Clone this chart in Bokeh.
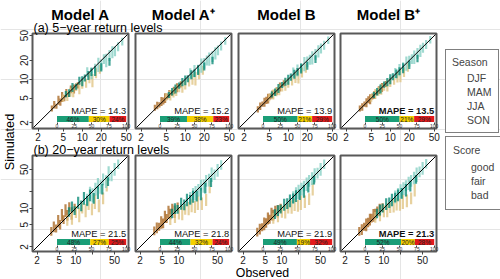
import math
from bokeh.plotting import figure
from bokeh.models import (Range1d, ColumnDataSource, FixedTicker, Legend, LegendItem,
                          LinearScale, LogScale, LogAxis, LinearAxis)
from bokeh.embed import file_html
from bokeh.resources import INLINE
from bokeh.core.properties import value

FONT = "Liberation Sans"

# ---------------- data ----------------
MODELS = ["Model A", "Model A\u207a", "Model B", "Model B\u207a"]
ROW_TITLES = ["(a) 5\u2212year return levels", "(b) 20\u2212year return levels"]
SEASONS = ["DJF", "MAM", "JJA", "SON"]
SEASON_COLORS = ["#a6611a", "#dfc27d", "#80cdc1", "#018571"]
SCORE_NAMES = ["good", "fair", "bad"]
SCORE_COLORS = ["#1b9e77", "#f5d000", "#e31a1c"]
AXIS_TICKS = [2, 5, 10, 20, 50]
BAR_TICKS = [0, 25, 50, 75, 100]

MAPE_5Y = [14.3, 15.2, 13.9, 13.5]
MAPE_20Y = [21.5, 21.8, 21.9, 21.3]
GOOD_5Y = [46, 39, 50, 50]
FAIR_5Y = [30, 38, 21, 21]
BAD_5Y = [24, 23, 29, 29]
GOOD_20Y = [48, 44, 49, 52]
FAIR_20Y = [27, 32, 19, 20]
BAD_20Y = [25, 24, 32, 28]

N_PER_SEASON = 12  # points per season, order DJF, MAM, JJA, SON

OBS_5Y = [3.3, 3.6, 3.9, 4.2, 4.5, 4.8, 5.2, 5.6, 6.1, 6.6, 7.4, 8.5,
          5.0, 5.8, 6.5, 7.2, 8.0, 9.0, 10.0, 11.5, 13.0, 14.5, 16.5, 19.0,
          12.0, 14.0, 16.0, 18.0, 20.0, 22.0, 24.0, 27.0, 30.0, 33.0, 37.0, 43.0,
          5.5, 6.2, 7.0, 8.0, 9.0, 10.0, 11.0, 12.5, 14.0, 16.0, 20.0, 27.0]
SPREAD_5Y = [1.12, 1.15, 1.10, 1.18, 1.14, 1.20, 1.12, 1.16, 1.10, 1.15, 1.18, 1.12,
             1.15, 1.20, 1.18, 1.22, 1.16, 1.25, 1.20, 1.18, 1.22, 1.28, 1.20, 1.18,
             1.20, 1.25, 1.18, 1.30, 1.22, 1.20, 1.28, 1.22, 1.25, 1.20, 1.18, 1.15,
             1.12, 1.15, 1.18, 1.12, 1.16, 1.20, 1.14, 1.18, 1.15, 1.20, 1.16, 1.15]
SIM_5Y_A = [3.4, 3.9, 3.7, 4.6, 4.3, 5.2, 5.0, 6.0, 5.7, 6.9, 7.0, 8.0,
            5.0, 5.4, 6.2, 6.3, 7.5, 7.2, 8.5, 8.6, 10.5, 9.5, 12.5, 14.5,
            13.0, 12.5, 15.0, 17.0, 17.0, 21.0, 20.0, 24.0, 27.0, 28.0, 33.0, 40.0,
            5.8, 6.0, 7.4, 7.6, 9.5, 9.3, 10.5, 11.5, 13.0, 13.5, 15.5, 19.0]
SIM_5Y_AP = [3.5, 3.8, 3.9, 4.4, 4.5, 5.0, 5.3, 5.8, 6.0, 6.6, 7.3, 8.3,
             5.2, 5.5, 6.0, 6.6, 7.2, 7.6, 8.2, 9.0, 10.0, 10.2, 12.0, 14.0,
             12.5, 13.5, 14.5, 16.5, 18.0, 20.0, 21.0, 23.0, 26.0, 29.0, 34.0, 41.0,
             5.6, 6.3, 7.0, 7.9, 9.0, 9.6, 10.2, 11.8, 12.5, 14.0, 16.0, 20.0]
SIM_5Y_B = [3.3, 3.7, 4.0, 4.3, 4.6, 4.9, 5.3, 5.7, 6.2, 6.5, 7.5, 8.6,
            5.1, 5.7, 6.3, 6.8, 7.4, 8.2, 8.8, 9.4, 10.6, 11.0, 12.8, 15.0,
            12.8, 13.8, 15.5, 17.5, 19.0, 20.5, 22.0, 25.0, 28.0, 31.0, 35.0, 42.0,
            5.7, 6.2, 7.1, 8.1, 9.1, 9.8, 10.8, 12.0, 13.2, 14.8, 16.5, 21.0]
SIM_5Y_BP = [3.4, 3.6, 4.0, 4.2, 4.7, 4.8, 5.3, 5.6, 6.1, 6.7, 7.4, 8.4,
             5.0, 5.8, 6.4, 6.9, 7.6, 8.0, 9.0, 9.6, 10.8, 11.5, 13.0, 15.5,
             12.6, 14.0, 15.8, 17.8, 19.5, 21.0, 22.5, 26.0, 28.5, 32.0, 36.0, 43.0,
             5.6, 6.3, 7.0, 8.2, 9.0, 10.0, 11.0, 12.2, 13.5, 15.0, 17.0, 21.5]

OBS_20Y = [3.6, 4.0, 4.4, 4.8, 5.2, 5.6, 6.0, 6.5, 7.0, 7.6, 8.4, 9.5,
           7.0, 8.5, 10.0, 11.5, 13.0, 15.0, 17.0, 19.5, 22.0, 26.0, 31.0, 36.0,
           16.0, 18.0, 20.0, 22.5, 25.0, 28.0, 31.0, 35.0, 39.0, 44.0, 50.0, 58.0,
           7.5, 8.5, 9.5, 11.0, 12.5, 14.0, 16.0, 18.0, 21.0, 25.0, 30.0, 38.0]
SPREAD_20Y = [1.20, 1.25, 1.18, 1.30, 1.22, 1.28, 1.20, 1.30, 1.25, 1.22, 1.30, 1.20,
              1.25, 1.30, 1.28, 1.35, 1.25, 1.32, 1.30, 1.28, 1.35, 1.30, 1.28, 1.30,
              1.30, 1.28, 1.35, 1.30, 1.25, 1.32, 1.28, 1.30, 1.35, 1.25, 1.30, 1.22,
              1.22, 1.25, 1.20, 1.28, 1.25, 1.30, 1.22, 1.28, 1.25, 1.30, 1.25, 1.20]
SIM_20Y_A = [3.8, 4.6, 4.3, 5.8, 5.0, 7.5, 6.2, 9.0, 7.4, 10.5, 8.0, 10.0,
             6.0, 6.5, 8.5, 7.5, 10.0, 9.0, 12.0, 9.5, 13.0, 11.0, 15.0, 26.0,
             14.0, 19.0, 17.0, 22.0, 28.0, 24.0, 33.0, 30.0, 42.0, 38.0, 50.0, 62.0,
             8.5, 10.5, 9.0, 12.5, 11.0, 15.0, 13.5, 17.0, 15.0, 19.0, 22.0, 30.0]
SIM_20Y_AP = [3.9, 4.4, 4.6, 5.5, 5.3, 7.0, 6.5, 8.5, 7.8, 9.8, 8.6, 10.5,
              6.2, 7.0, 8.0, 8.2, 9.5, 9.8, 11.0, 10.5, 12.5, 12.0, 14.0, 24.0,
              15.0, 18.0, 18.5, 21.0, 26.0, 25.0, 31.0, 32.0, 40.0, 40.0, 48.0, 60.0,
              8.0, 9.8, 9.5, 12.0, 11.5, 14.0, 14.2, 16.0, 16.5, 18.0, 23.0, 29.0]
SIM_20Y_B = [3.7, 4.2, 4.5, 5.2, 5.4, 6.5, 6.3, 7.8, 7.5, 9.0, 8.8, 10.0,
             6.5, 7.2, 8.6, 8.8, 10.0, 10.5, 11.5, 11.0, 12.5, 13.0, 14.5, 22.0,
             15.5, 18.5, 19.5, 22.0, 25.0, 27.0, 31.0, 34.0, 39.0, 43.0, 50.0, 62.0,
             7.8, 9.0, 9.6, 11.5, 12.0, 13.5, 15.0, 16.5, 17.5, 20.0, 24.0, 32.0]
SIM_20Y_BP = [3.8, 4.1, 4.6, 5.0, 5.5, 6.2, 6.6, 7.4, 7.8, 8.8, 9.2, 10.2,
              6.8, 7.5, 8.8, 9.2, 10.2, 11.0, 11.8, 11.5, 13.0, 13.5, 15.0, 21.0,
              16.0, 18.0, 20.0, 22.5, 25.5, 28.0, 31.0, 35.0, 40.0, 45.0, 52.0, 63.0,
              8.0, 9.2, 10.0, 11.8, 12.5, 14.0, 15.5, 17.0, 18.5, 21.0, 25.0, 33.0]

ROWS = [
    dict(obs=OBS_5Y, spread=SPREAD_5Y, sims=[SIM_5Y_A, SIM_5Y_AP, SIM_5Y_B, SIM_5Y_BP],
         mape=MAPE_5Y, good=GOOD_5Y, fair=FAIR_5Y, bad=BAD_5Y, rng=(1.63, 54.0), hide20=False),
    dict(obs=OBS_20Y, spread=SPREAD_20Y, sims=[SIM_20Y_A, SIM_20Y_AP, SIM_20Y_B, SIM_20Y_BP],
         mape=MAPE_20Y, good=GOOD_20Y, fair=FAIR_20Y, bad=BAD_20Y, rng=(1.65, 89.0), hide20=True),
]

# ---------------- layout (pixels, y measured from the top) ----------------
W, H = 500, 279
PANEL_X0 = [32, 135, 238, 340]
ROW_Y0 = [33, 155]
FRAME_W = 96
FRAME_H = [95, 96]
BAR_L, BAR_R = 24.5, FRAME_W - 2.3


def log_range(lo, hi, a, b, total):
    k = (math.log10(hi) - math.log10(lo)) / (b - a)
    return Range1d(10 ** (math.log10(lo) - a * k), 10 ** (math.log10(hi) + (total - b) * k))


def lin_range(v0, v1, a, b, total):
    k = (v1 - v0) / (b - a)
    return Range1d(v0 - a * k, v1 + (total - b) * k)


p = figure(width=W, height=H, x_range=Range1d(0, W), y_range=Range1d(0, H),
           output_backend="svg", toolbar_location=None, min_border=0, title=None,
           x_axis_location=None, y_axis_location=None)
p.outline_line_color = None
p.background_fill_color = "white"

xr_d, yr_d, xs_d, ys_d = {}, {}, {}, {}


def style_axis(ax, size="10px"):
    ax.axis_line_color = None
    ax.major_tick_line_color = "#444444"
    ax.major_tick_in = 0
    ax.minor_tick_line_color = None
    ax.major_label_text_font = FONT
    ax.major_label_text_font_size = size
    ax.major_label_text_color = "#1a1a1a"


for r, d in enumerate(ROWS):
    lo, hi = d["rng"]
    y0 = ROW_Y0[r]
    fh = FRAME_H[r]
    fb = H - (y0 + fh)   # frame bottom, from canvas bottom
    ft = H - y0
    for m in range(4):
        x0 = PANEL_X0[m]
        xn, yn, bn = f"x{r}{m}", f"y{r}{m}", f"b{r}{m}"
        xr_d[xn] = log_range(lo, hi, x0, x0 + FRAME_W, W)
        xs_d[xn] = LogScale()
        yr_d[yn] = log_range(lo, hi, fb, ft, H)
        ys_d[yn] = LogScale()
        xr_d[bn] = lin_range(0, 100, x0 + BAR_L, x0 + BAR_R, W)
        xs_d[bn] = LinearScale()

        obs, sim, sp = d["obs"], d["sims"][m], d["spread"]
        src = ColumnDataSource(dict(
            x=obs, lo=[s / k for s, k in zip(sim, sp)], hi=[s * k for s, k in zip(sim, sp)],
            c=[SEASON_COLORS[i // N_PER_SEASON] for i in range(len(obs))]))
        p.segment(x0="x", y0="lo", x1="x", y1="hi", line_color="c", line_width=2.2,
                  line_alpha=0.75, source=src, x_range_name=xn, y_range_name=yn)
        # 1:1 line across the panel and the panel box
        p.line(x=[lo, hi], y=[lo, hi], line_color="black", line_width=1,
               x_range_name=xn, y_range_name=yn)
        p.quad(left=[lo], right=[hi], bottom=[lo], top=[hi], fill_color=None,
               line_color="#595959", line_width=2, x_range_name=xn, y_range_name=yn)

        # axes of the panel
        overrides = {t: str(t) for t in AXIS_TICKS}
        if d["hide20"]:
            overrides[20] = ""
        xa = LogAxis(x_range_name=xn, y_range_name=yn, fixed_location=lo,
                     ticker=FixedTicker(ticks=AXIS_TICKS, minor_ticks=[]),
                     major_label_overrides=overrides, major_tick_out=3, major_label_standoff=1)
        style_axis(xa)
        p.add_layout(xa, "below")
        if m == 0:
            ya = LogAxis(x_range_name=xn, y_range_name=yn, fixed_location=lo,
                         ticker=FixedTicker(ticks=AXIS_TICKS, minor_ticks=[]),
                         major_label_overrides=overrides, major_tick_out=3,
                         major_label_standoff=1, major_label_orientation="vertical")
            style_axis(ya)
            p.add_layout(ya, "left")

        # score bar
        vals = [d["good"][m], d["fair"][m], d["bad"][m]]
        lefts, rights, acc = [], [], 0
        for v in vals:
            lefts.append(acc)
            acc += v
            rights.append(acc)
        bsrc = ColumnDataSource(dict(l=lefts, r=rights,
                                     mid=[(a + b) / 2 for a, b in zip(lefts, rights)],
                                     c=SCORE_COLORS, t=[f"{v}%" for v in vals]))
        p.quad(left="l", right="r", bottom=fb + 6.5, top=fb + 12.5, fill_color="c",
               line_color=None, source=bsrc, x_range_name=bn)
        p.text(x="mid", y=fb + 9.5, text="t", source=bsrc, x_range_name=bn,
               text_align="center", text_baseline="middle", text_font=value(FONT),
               text_font_size="6.5px", text_color="#222222")
        ba = LinearAxis(x_range_name=bn, fixed_location=fb + 6.5,
                        ticker=FixedTicker(ticks=BAR_TICKS, minor_ticks=[]),
                        major_tick_out=2, major_label_standoff=0)
        style_axis(ba, "5px")
        ba.major_label_text_color = "#333333"
        p.add_layout(ba, "below")
        best = d["mape"][m] == min(d["mape"])
        p.text(x=[100], y=[fb + 17.5], text=[f"MAPE = {d['mape'][m]}"], x_range_name=bn,
               text_align="right", text_baseline="alphabetic", text_font=value(FONT),
               text_font_size="9.3px", text_color="#111111",
               text_font_style="bold" if best else "normal")

p.extra_x_ranges = xr_d
p.extra_y_ranges = yr_d
p.extra_x_scales = xs_d
p.extra_y_scales = ys_d

# titles and axis captions
p.text(x=[x0 + FRAME_W / 2 for x0 in PANEL_X0], y=[H - 14] * 4, text=MODELS,
       text_align="center", text_baseline="alphabetic", text_font=value(FONT),
       text_font_size="15px", text_font_style="bold", text_color="black")
p.text(x=[PANEL_X0[0] + 1] * 2, y=[H - 27.5, H - 149.5], text=ROW_TITLES, text_align="left",
       text_baseline="alphabetic", text_font=value(FONT), text_font_size="12.5px",
       text_color="black")
p.text(x=[262], y=[H - 272], text=["Observed"], text_align="center",
       text_baseline="alphabetic", text_font=value(FONT), text_font_size="12.3px",
       text_color="black")
p.text(x=[9], y=[H - 141.5], text=["Simulated"], angle=math.pi / 2, text_align="center",
       text_baseline="middle", text_font=value(FONT), text_font_size="12.7px",
       text_color="black")

# legends
s_items = []
for name, col in zip(SEASONS, SEASON_COLORS):
    rr = p.line(x=[], y=[], line_color=col, line_width=2)
    s_items.append(LegendItem(label=name, renderers=[rr]))
k_items = []
for name, col in zip(SCORE_NAMES, SCORE_COLORS):
    rr = p.quad(left=[], right=[], bottom=[], top=[], fill_color=col, line_color=None)
    k_items.append(LegendItem(label=name, renderers=[rr]))

common = dict(border_line_color="black", border_line_width=1, background_fill_alpha=1,
              label_text_font=FONT, label_text_font_size="10.5px", title_text_font=FONT,
              title_text_font_size="10.5px", title_text_font_style="normal",
              title_standoff=4, margin=0)
season_leg = Legend(items=s_items, title="Season", location=(445, H - 133), glyph_width=10,
                    glyph_height=12, label_height=12, spacing=2, padding=6,
                    label_standoff=5, **common)
score_leg = Legend(items=k_items, title="Score", location=(445, H - 210), glyph_width=8,
                   glyph_height=8, label_height=14, spacing=0, padding=7,
                   label_standoff=10, **common)
p.add_layout(season_leg)
p.add_layout(score_leg)

open("out.html", "w").write(file_html(p, INLINE))
